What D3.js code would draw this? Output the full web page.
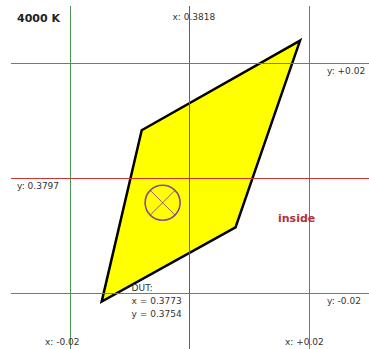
<!DOCTYPE html>
<html>
<head>
<meta charset="utf-8">
<script src="https://cdn.jsdelivr.net/npm/d3@7"></script>
<style>
	body { margin: 0; background: #fff; }
	svg { display: block; }
	text { font-family: "DejaVu Sans", Verdana, sans-serif; fill: #333; }
</style>
</head>
<body>
<svg></svg>
<script>
// target chromaticity and +/- limits
const limitX = [0.3618, 0.3818, 0.4018];
const limitY = [0.3597, 0.3797, 0.3997];
const labelsX = ["x: -0.02", "x: 0.3818", "x: +0.02"];
const labelsY = ["y: -0.02", "y: 0.3797", "y: +0.02"];

// tolerance quadrilateral (x, y)
const polyX = [0.4003, 0.3738, 0.3671, 0.3895];
const polyY = [0.4036, 0.3880, 0.3582, 0.3711];

// measured device
const dut = [0.3773, 0.3754];
const dutLines = ["DUT:", "x = 0.3773", "y = 0.3754"];
const title = "4000 K";
const status = "inside";

const w = 369, h = 349;

const xScale = d3.scaleLinear()
	.domain([limitX[0], limitX[2]])
	.range([70, 309]);

const yScale = d3.scaleLinear()
	.domain([limitY[0], limitY[2]])
	.range([293, 63]);

const svg = d3.select('svg')
	.attr('width', w)
	.attr('height', h)
	.attr('viewBox', [0, 0, w, h]);

svg.append('rect')
	.attr('width', w)
	.attr('height', h)
	.attr('fill', '#fff');

// polygon
const pts = polyX.map((x, i) => [xScale(x), yScale(polyY[i])]);
svg.append('polygon')
	.attr('points', pts.map(p => p.join(',')).join(' '))
	.attr('fill', '#ffff00')
	.attr('stroke', '#000')
	.attr('stroke-width', 2.5);

// grid lines: center red, limits green
const lineColor = i => i == 1 ? '#cc3333' : '#4a9458';

svg.selectAll('line.vx')
	.data(limitX)
	.enter()
	.append('line')
		.attr('x1', d => Math.round(xScale(d)) + 0.5)
		.attr('x2', d => Math.round(xScale(d)) + 0.5)
		.attr('y1', 6)
		.attr('y2', h)
		.attr('stroke', (d, i) => lineColor(i))
		.attr('stroke-width', 1);

svg.selectAll('line.hy')
	.data(limitY)
	.enter()
	.append('line')
		.attr('y1', d => Math.round(yScale(d)) + 0.5)
		.attr('y2', d => Math.round(yScale(d)) + 0.5)
		.attr('x1', 11)
		.attr('x2', w)
		.attr('stroke', (d, i) => lineColor(i))
		.attr('stroke-width', 1);

// x labels (top for center, bottom for limits)
const xdx = [-25, -17, -24];
svg.selectAll('text.xl')
	.data(labelsX)
	.enter()
	.append('text')
		.attr('x', (d, i) => xScale(limitX[i]) + xdx[i])
		.attr('y', (d, i) => i == 1 ? 20 : 345)
		.attr('font-size', 9)
		.text(d => d);

// y labels (left for center, right for limits)
svg.selectAll('text.yl')
	.data(labelsY)
	.enter()
	.append('text')
		.attr('x', (d, i) => i == 1 ? 17 : 327)
		.attr('y', (d, i) => yScale(limitY[i]) + 11)
		.attr('font-size', 9)
		.text(d => d);

svg.append('text')
	.attr('x', 17)
	.attr('y', 22)
	.attr('font-size', 11)
	.attr('font-weight', 'bold')
	.style('fill', '#222')
	.text(title);

svg.append('text')
	.attr('x', xScale(limitX[2]) - 31)
	.attr('y', yScale(limitY[1]) + 44)
	.attr('font-size', 11)
	.attr('font-weight', 'bold')
	.style('fill', '#b0303a')
	.text(status);

// DUT marker
const cx = xScale(dut[0]), cy = yScale(dut[1]), r = 17.5;
const k = r / Math.SQRT2;
svg.append('circle')
	.attr('cx', cx)
	.attr('cy', cy)
	.attr('r', r)
	.attr('fill', 'none')
	.attr('stroke', '#8a4a8a')
	.attr('stroke-width', 1.6);
svg.append('path')
	.attr('d', `M${cx - k},${cy - k}L${cx + k},${cy + k}M${cx - k},${cy + k}L${cx + k},${cy - k}`)
	.attr('stroke', '#8a4a8a')
	.attr('stroke-width', 0.9);

svg.selectAll('text.dut')
	.data(dutLines)
	.enter()
	.append('text')
		.attr('x', cx - 31)
		.attr('y', (d, i) => yScale(limitY[0]) - 2 + i * 13)
		.attr('font-size', 9)
		.text(d => d);
</script>
</body>
</html>
